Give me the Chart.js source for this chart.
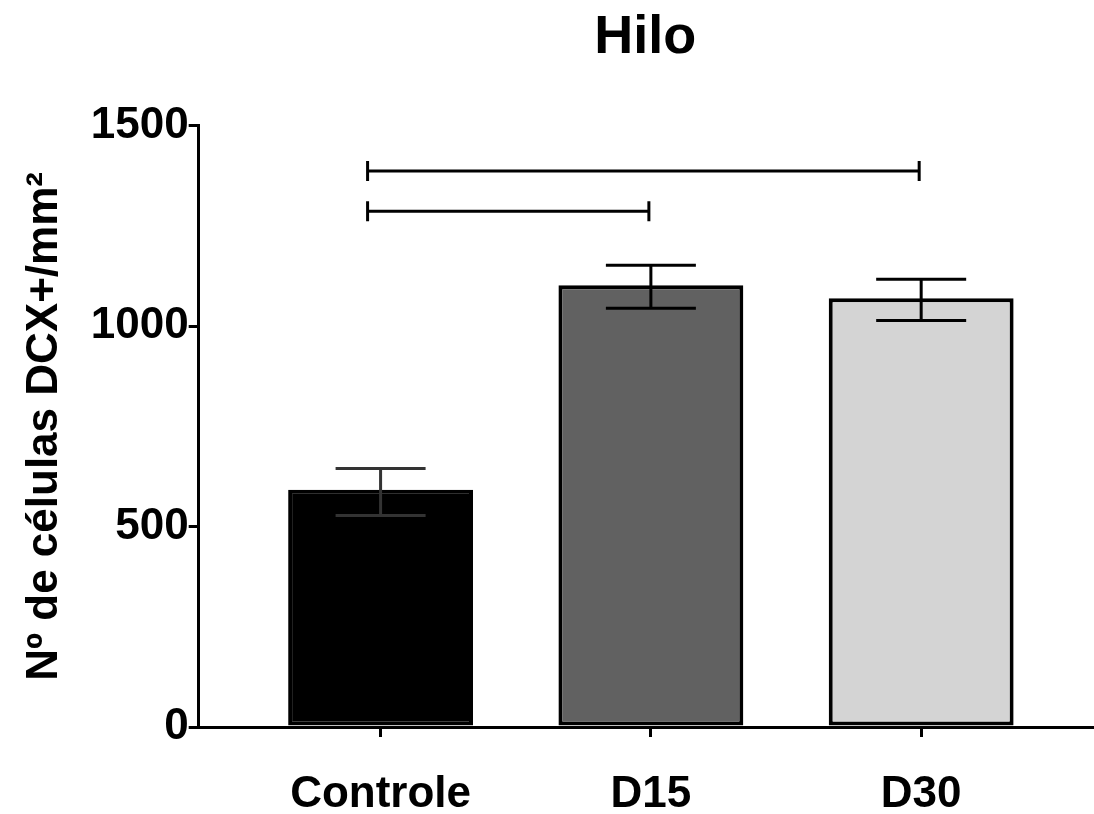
<!DOCTYPE html>
<html>
<head>
<meta charset="utf-8">
<script src="https://cdn.jsdelivr.net/npm/chart.js@4"></script>
<style>
  html, body { margin: 0; padding: 0; background: #fff; }
  #wrap { width: 1094px; height: 814px; }
</style>
</head>
<body>
<div id="wrap"><canvas id="chart" width="1094" height="814"></canvas></div>
<script>
const categories = ['Controle', 'D15', 'D30'];
const means = [592, 1102, 1070];
const errLow = [528, 1045, 1014];
const errHigh = [645, 1152, 1117];
const barColors = ['#000000', '#616161', '#d4d4d4'];
const errColors = ['#333333', '#000000', '#000000'];
const yTicks = [0, 500, 1000, 1500];

// significance brackets: from category, to category, level
const bracketFrom = [0, 0];
const bracketTo = [2, 1];
const bracketLevel = [1387, 1287];

const FONT = '"Liberation Sans", Arial, Helvetica, sans-serif';

const errorBars = {
  id: 'errorBars',
  afterDatasetsDraw(chart) {
    const { ctx, scales: { x, y } } = chart;
    ctx.save();
    ctx.lineWidth = 3;
    means.forEach((m, i) => {
      const px = x.getPixelForValue(i);
      const hi = y.getPixelForValue(errHigh[i]);
      const lo = y.getPixelForValue(errLow[i]);
      ctx.strokeStyle = errColors[i];
      ctx.beginPath();
      ctx.moveTo(px, hi); ctx.lineTo(px, lo);
      ctx.moveTo(px - 45, hi); ctx.lineTo(px + 45, hi);
      ctx.moveTo(px - 45, lo); ctx.lineTo(px + 45, lo);
      ctx.stroke();
    });
    // brackets
    ctx.strokeStyle = '#000';
    bracketLevel.forEach((lvl, i) => {
      const x1 = x.getPixelForValue(bracketFrom[i]) - 13;
      const x2 = x.getPixelForValue(bracketTo[i]) - 2;
      const py = y.getPixelForValue(lvl);
      ctx.beginPath();
      ctx.moveTo(x1, py); ctx.lineTo(x2, py);
      ctx.moveTo(x1, py - 10); ctx.lineTo(x1, py + 10);
      ctx.moveTo(x2, py - 10); ctx.lineTo(x2, py + 10);
      ctx.stroke();
    });
    ctx.restore();
  }
};

new Chart(document.getElementById('chart'), {
  type: 'bar',
  data: {
    datasets: [{
      data: means.map((v, i) => ({ x: i, y: v })),
      backgroundColor: barColors,
      borderColor: '#000',
      borderWidth: 4,
      borderSkipped: false,
      barPercentage: 0.684,
      categoryPercentage: 1
    }]
  },
  options: {
    responsive: false,
    animation: false,
    layout: { padding: { left: 18, right: 2, top: 6, bottom: -39 } },
    plugins: {
      legend: { display: false },
      tooltip: { enabled: false },
      title: {
        display: true,
        fullSize: false,
        text: 'Hilo',
        color: '#000',
        font: { family: FONT, size: 54, weight: 'bold' },
        padding: { top: 0, bottom: 55 }
      }
    },
    scales: {
      x: {
        type: 'linear',
        offset: false,
        min: -0.673,
        max: 2.632,
        afterBuildTicks: s => { s.ticks = categories.map((c, i) => ({ value: i })); },
        ticks: {
          callback: v => categories[v],
          color: '#000',
          padding: 36,
          font: { family: FONT, size: 44, weight: 'bold', lineHeight: 1 }
        },
        grid: { offset: false, drawOnChartArea: false, tickLength: 10, color: '#000', lineWidth: 3 },
        border: { color: '#000', width: 3 }
      },
      y: {
        min: 0,
        max: 1500,
        afterBuildTicks: s => { s.ticks = yTicks.map(v => ({ value: v })); },
        ticks: {
          callback: v => String(v),
          color: '#000',
          padding: 0,
          font: { family: FONT, size: 44, weight: 'bold', lineHeight: 1 }
        },
        grid: { drawOnChartArea: false, tickLength: 10, color: '#000', lineWidth: 3 },
        border: { color: '#000', width: 3 },
        title: {
          display: true,
          text: 'Nº de células DCX+/mm²',
          color: '#000',
          padding: { top: 0, bottom: 20 },
          font: { family: FONT, size: 44, weight: 'bold' }
        }
      }
    }
  },
  plugins: [errorBars]
});
</script>
</body>
</html>
